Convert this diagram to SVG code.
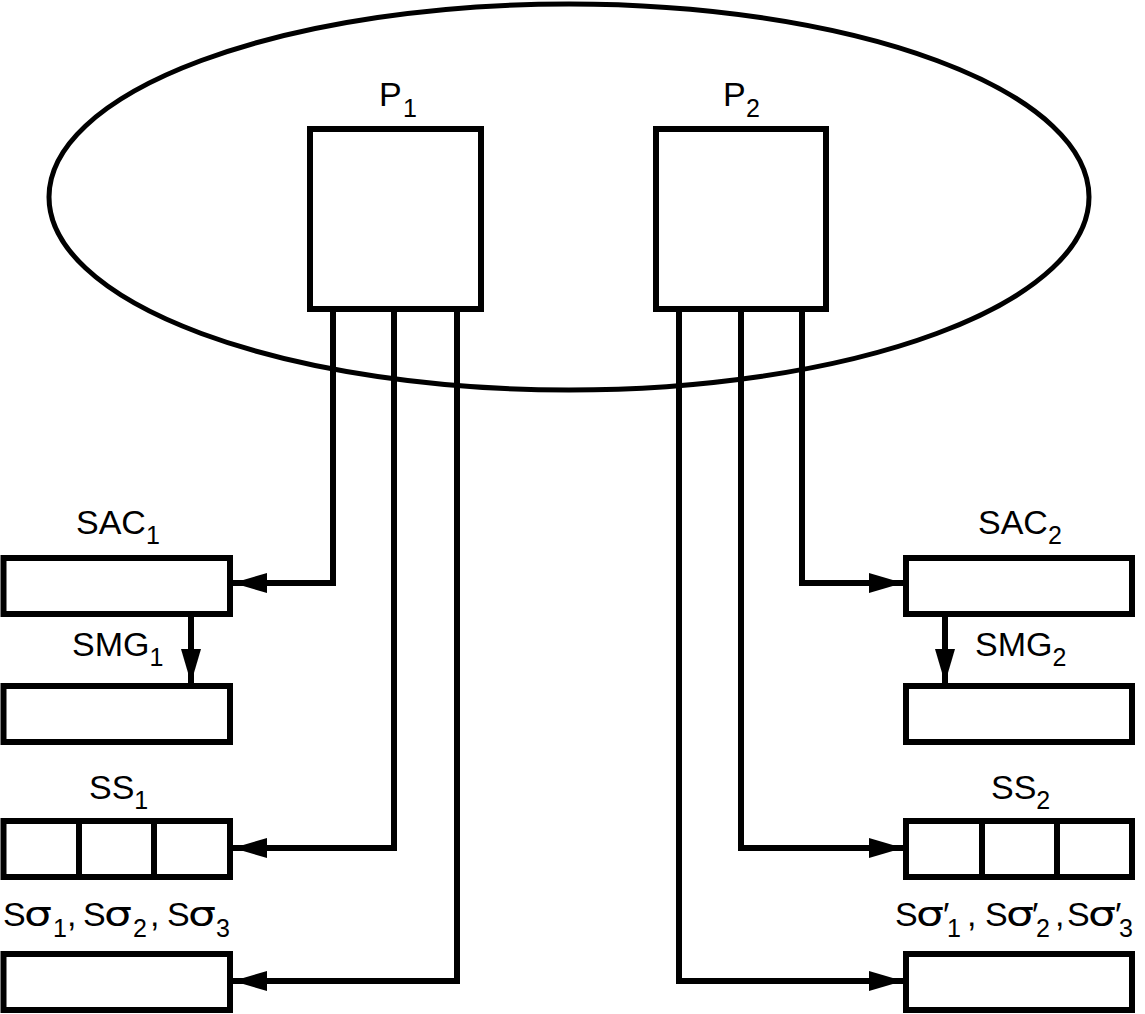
<svg xmlns="http://www.w3.org/2000/svg" width="1145" height="1014" viewBox="0 0 1145 1014">
<style>
.box{fill:none;stroke:#000;stroke-width:6}
.ell{fill:none;stroke:#000;stroke-width:5}
.conn{fill:none;stroke:#000;stroke-width:6}
.lbl{font-family:"Liberation Sans",Arial,sans-serif;font-size:34px;fill:#000}
.sub{font-size:25px}
.gr{font-family:"DejaVu Sans","Liberation Sans",sans-serif;font-size:34px;fill:#000}
</style>
<defs>
<marker id="arr" viewBox="0 0 34 20" refX="34" refY="10" markerWidth="34" markerHeight="20" markerUnits="userSpaceOnUse" orient="auto">
<path d="M0,0 L34,10 L0,20 z" fill="#000"/>
</marker>
</defs>
<rect width="1145" height="1014" fill="#fff"/>
<g id="cluster"><ellipse class="ell" cx="569" cy="197" rx="520" ry="193"/></g>
<g id="P1"><rect class="box" x="310" y="129" width="171" height="180"/><text class="lbl" x="379" y="106">P<tspan class="sub" x="403" y="117">1</tspan></text></g>
<g id="P2"><rect class="box" x="656" y="129" width="170" height="180"/><text class="lbl" x="723" y="106">P<tspan class="sub" x="746" y="117">2</tspan></text></g>
<g id="SAC1"><rect class="box" x="3.5" y="558" width="226.5" height="56"/><text class="lbl" x="76" y="534">SAC<tspan class="sub" dy="10">1</tspan></text></g>
<g id="SMG1"><rect class="box" x="3.5" y="686" width="226.5" height="56"/><text class="lbl" x="72" y="656">SMG<tspan class="sub" dy="10">1</tspan></text></g>
<g id="SS1"><rect class="box" x="3.5" y="821" width="226.5" height="56"/><line class="box" x1="79" y1="821" x2="79" y2="877"/><line class="box" x1="154" y1="821" x2="154" y2="877"/><text class="lbl" x="89" y="799">SS<tspan class="sub" dy="10">1</tspan></text></g>
<g id="S1"><rect class="box" x="3.5" y="954" width="226.5" height="56"/>
<text class="lbl" y="926"><tspan x="3">S</tspan><tspan class="sub" x="53" y="937">1</tspan><tspan x="67" y="926">,</tspan><tspan x="83">S</tspan><tspan class="sub" x="133" y="937">2</tspan><tspan x="150" y="926">,</tspan><tspan x="167">S</tspan><tspan class="sub" x="216" y="937">3</tspan></text>
<text class="gr" transform="translate(24,926) scale(1.3,1)">σ</text>
<text class="gr" transform="translate(104,926) scale(1.3,1)">σ</text>
<text class="gr" transform="translate(188,926) scale(1.3,1)">σ</text>
</g>
<g id="SAC2"><rect class="box" x="906" y="558" width="226" height="56"/><text class="lbl" x="978" y="534">SAC<tspan class="sub" dy="10">2</tspan></text></g>
<g id="SMG2"><rect class="box" x="906" y="686" width="226" height="56"/><text class="lbl" x="975" y="656">SMG<tspan class="sub" dy="10">2</tspan></text></g>
<g id="SS2"><rect class="box" x="906" y="821" width="226" height="56"/><line class="box" x1="982" y1="821" x2="982" y2="877"/><line class="box" x1="1057" y1="821" x2="1057" y2="877"/><text class="lbl" x="991" y="799">SS<tspan class="sub" dy="10">2</tspan></text></g>
<g id="S2"><rect class="box" x="906" y="954" width="226" height="56"/>
<text class="lbl" y="926"><tspan x="895">S</tspan><tspan x="943">′</tspan><tspan class="sub" x="947" y="937">1</tspan><tspan x="967" y="926">,</tspan><tspan x="985">S</tspan><tspan x="1032">′</tspan><tspan class="sub" x="1036" y="937">2</tspan><tspan x="1055" y="926">,</tspan><tspan x="1067">S</tspan><tspan x="1115">′</tspan><tspan class="sub" x="1119" y="937">3</tspan></text>
<text class="gr" transform="translate(916,926) scale(1.3,1)">σ</text>
<text class="gr" transform="translate(1006,926) scale(1.3,1)">σ</text>
<text class="gr" transform="translate(1088,926) scale(1.3,1)">σ</text>
</g>
<g id="connectors">
<path class="conn" d="M333,310 V583 H233" marker-end="url(#arr)"/>
<path class="conn" d="M394,310 V848 H233" marker-end="url(#arr)"/>
<path class="conn" d="M457,310 V981 H233" marker-end="url(#arr)"/>
<path class="conn" d="M802,310 V583 H903" marker-end="url(#arr)"/>
<path class="conn" d="M741,310 V848 H903" marker-end="url(#arr)"/>
<path class="conn" d="M679,310 V981 H903" marker-end="url(#arr)"/>
<path class="conn" d="M191,617 V683" marker-end="url(#arr)"/>
<path class="conn" d="M945,617 V683" marker-end="url(#arr)"/>
</g>
</svg>
